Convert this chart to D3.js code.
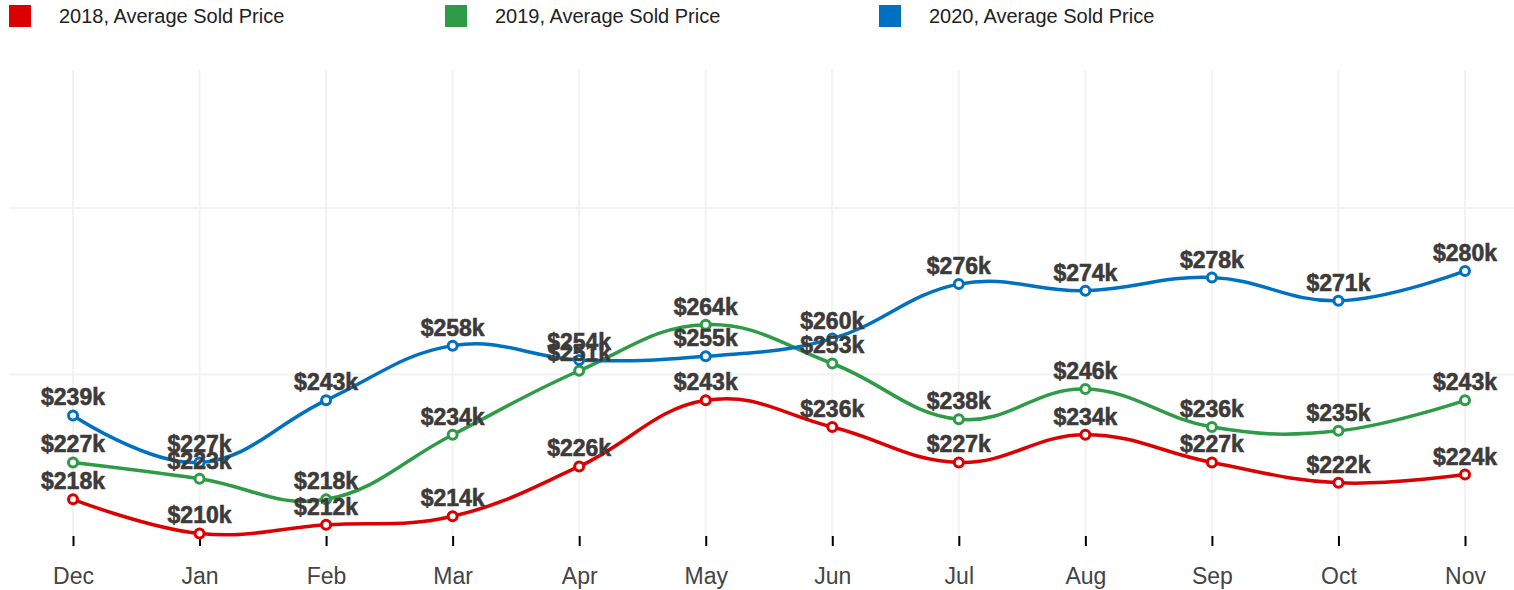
<!DOCTYPE html>
<html>
<head>
<meta charset="utf-8">
<script src="https://cdn.jsdelivr.net/npm/d3@7"></script>
<style>
  body { margin: 0; background: #fff; }
  svg { font-family: "Liberation Sans", Arial, sans-serif; }
</style>
</head>
<body>
<div id="chart"></div>
<script>
// les données (en milliers de $)
const months = ["Dec", "Jan", "Feb", "Mar", "Apr", "May", "Jun", "Jul", "Aug", "Sep", "Oct", "Nov"];
const price2018 = [218, 210, 212, 214, 226, 243, 236, 227, 234, 227, 222, 224];
const price2019 = [227, 223, 218, 234, 251, 264, 253, 238, 246, 236, 235, 243];
const price2020 = [239, 227, 243, 258, 254, 255, 260, 276, 274, 278, 271, 280];
const seriesNames = ["2018, Average Sold Price", "2019, Average Sold Price", "2020, Average Sold Price"];
const seriesColors = ["#dd0000", "#2e9b47", "#0070c0"];
const gridValues = [250, 300];

const W = 1514, H = 590;
const svg = d3.select("#chart").append("svg")
    .attr("width", W)
    .attr("height", H);

const x = d3.scalePoint().domain(months).range([73, 1465]);
const y = d3.scaleLog().domain([208.5, 349]).range([540, 70]);

// grille horizontale
svg.append("g").selectAll("line")
    .data(gridValues)
    .enter().append("line")
    .attr("x1", 10).attr("x2", W)
    .attr("y1", d => y(d)).attr("y2", d => y(d))
    .attr("stroke", "#f2f2f2").attr("stroke-width", 2);

// grille verticale
svg.append("g").selectAll("line")
    .data(months)
    .enter().append("line")
    .attr("x1", d => x(d)).attr("x2", d => x(d))
    .attr("y1", 70).attr("y2", 540)
    .attr("stroke", "#f2f2f2").attr("stroke-width", 2);

// axe X
const axisX = d3.axisBottom(x).tickSize(10).tickPadding(22);
const gx = svg.append("g")
    .attr("transform", "translate(0,536)")
    .call(axisX);
gx.select(".domain").remove();
gx.selectAll(".tick line").attr("stroke", "#000").attr("stroke-width", 2);
gx.selectAll(".tick text")
    .attr("fill", "#444")
    .style("font-size", "23px")
    .style("font-family", "Liberation Sans, Arial, sans-serif");

const series = [price2018, price2019, price2020].map((vals, i) => ({
    name: seriesNames[i],
    color: seriesColors[i],
    values: vals.map((v, j) => ({ month: months[j], value: v }))
}));

const line = d3.line()
    .x(d => x(d.month))
    .y(d => y(d.value))
    .curve(d3.curveCardinal.tension(-0.2));

series.forEach(s => {
    svg.append("path")
        .datum(s.values)
        .attr("fill", "none")
        .attr("stroke", s.color)
        .attr("stroke-width", 3.5)
        .attr("d", line);
});

// points
series.forEach(s => {
    svg.append("g").selectAll("circle")
        .data(s.values)
        .enter().append("circle")
        .attr("cx", d => x(d.month))
        .attr("cy", d => y(d.value))
        .attr("r", 4.5)
        .attr("fill", "#fff")
        .attr("stroke", s.color)
        .attr("stroke-width", 3);
});

// étiquettes des valeurs
series.forEach(s => {
    svg.append("g").selectAll("text")
        .data(s.values)
        .enter().append("text")
        .attr("x", d => x(d.month))
        .attr("y", d => y(d.value) - 10)
        .attr("text-anchor", "middle")
        .attr("fill", "#3d3a3a")
        .attr("stroke", "#3d3a3a")
        .attr("stroke-width", 0.6)
        .style("font-size", "23px")
        .style("font-weight", "bold")
        .text(d => "$" + d.value + "k");
});

// légende
const legend = svg.append("g").selectAll("g")
    .data(series)
    .enter().append("g")
    .attr("transform", (d, i) => `translate(${[9, 445, 879][i]},5)`);
legend.append("rect")
    .attr("width", 22).attr("height", 22)
    .attr("fill", d => d.color);
legend.append("text")
    .attr("x", 50).attr("y", 18)
    .attr("fill", "#222")
    .style("font-size", "20px")
    .text(d => d.name);
</script>
</body>
</html>
